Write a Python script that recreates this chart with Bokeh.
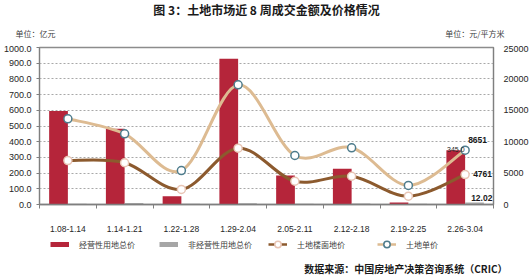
import numpy as np
from bokeh.plotting import figure
from bokeh.layouts import column
from bokeh.models import (Range1d, LinearAxis, FixedTicker, NumeralTickFormatter,
                          Legend, LegendItem)
from bokeh.core.properties import value
from bokeh.embed import file_html
from bokeh.resources import INLINE

# ---------------- data ----------------
weeks = ["1.08-1.14", "1.14-1.21", "1.22-1.28", "1.29-2.04",
         "2.05-2.11", "2.12-2.18", "2.19-2.25", "2.26-3.04"]
commercial_total = [595, 482, 52, 928, 185, 228, 12, 345.0]      # 经营性用地总价 (亿元)
noncommercial_total = [4, 9, 5, 8, 5, 6, 4, 12.02]               # 非经营性用地总价 (亿元)
floor_price = [7000, 6650, 2400, 8970, 3700, 4500, 1330, 4761]    # 土地楼面地价 (元/平方米)
unit_price = [13650, 11250, 5400, 19050, 7800, 9030, 3030, 8651]  # 土地单价 (元/平方米)
left_ticks = list(range(0, 1001, 100))
right_ticks = list(range(0, 25001, 5000))

title_text = "图 3：土地市场近 8 周成交金额及价格情况"
left_unit = "单位：亿元"
right_unit = "单位：元/平方米"
source_text = "数据来源：中国房地产决策咨询系统（CRIC）"
series_names = ["经营性用地总价", "非经营性用地总价", "土地楼面地价", "土地单价"]

# ---------------- styles ----------------
RED = "#B5253A"
GRAY = "#A6A6A6"
TAN = "#DDBB92"
BROWN = "#8C5A2E"
UNIT_EDGE = "#4E7C8C"
FLOOR_EDGE = "#E8C5B5"
CJK = "Noto Sans CJK SC"
NUM = "Liberation Sans"
W = 532
HEAD_H = 45
MAIN_H = 190
FOOT_H = 280 - HEAD_H - MAIN_H


def blank(h, **kw):
    f = figure(width=W, height=h, output_backend="svg", toolbar_location=None,
               x_range=Range1d(0, W), y_range=Range1d(h, 0),
               min_border=0, x_axis_type=None, y_axis_type=None, **kw)
    f.outline_line_color = None
    f.grid.visible = False
    f.frame_align = False
    return f


# ---------------- header (title + units) ----------------
head = blank(HEAD_H)
head.text(x=[W / 2], y=[9], text=[title_text], text_font=value(CJK),
          text_font_style="bold", text_font_size="12px", text_color="#1a1a1a",
          text_align="center", text_baseline="middle")
head.text(x=[15], y=[33], text=[left_unit], text_font=value(CJK),
          text_font_size="8px", text_color="#404040",
          text_align="left", text_baseline="middle")
head.text(x=[504], y=[33], text=[right_unit], text_font=value(CJK),
          text_font_size="8px", text_color="#404040",
          text_align="right", text_baseline="middle")

# ---------------- main chart ----------------
xs = np.arange(len(weeks), dtype=float)

p = figure(width=W, height=MAIN_H, output_backend="svg", toolbar_location=None,
           x_range=Range1d(-0.5, len(weeks) - 0.5), y_range=Range1d(0, 1000),
           min_border_left=37, min_border_right=39, min_border_top=2,
           min_border_bottom=31)
p.frame_align = False
p.extra_y_ranges = {"right": Range1d(0, 25000)}
p.outline_line_color = "#8C8C8C"
p.outline_line_width = 1.5

p.xgrid.visible = False
p.ygrid.ticker = FixedTicker(ticks=left_ticks)
p.ygrid.grid_line_color = "#A8A8A8"
p.ygrid.grid_line_dash = "2 2"
p.ygrid.grid_line_width = 1

ya = p.yaxis[0]
ya.ticker = FixedTicker(ticks=left_ticks)
ya.formatter = NumeralTickFormatter(format="0.0")
ya.major_label_text_font = NUM
ya.major_label_text_font_size = "9px"
ya.major_label_text_color = "#262626"
ya.axis_line_color = "#7F7F7F"
ya.major_tick_line_color = "#7F7F7F"
ya.major_tick_out = 3
ya.major_tick_in = 0
ya.minor_tick_line_color = None
ya.major_label_standoff = 5

ra = LinearAxis(y_range_name="right", ticker=FixedTicker(ticks=right_ticks),
                formatter=NumeralTickFormatter(format="0"))
ra.major_label_text_font = NUM
ra.major_label_text_font_size = "9px"
ra.major_label_text_color = "#262626"
ra.axis_line_color = "#7F7F7F"
ra.major_tick_line_color = None
ra.major_tick_out = 0
ra.major_tick_in = 0
ra.minor_tick_line_color = None
ra.major_label_standoff = 10
p.add_layout(ra, "right")

xa = p.xaxis[0]
xa.ticker = FixedTicker(ticks=list(xs), minor_ticks=list(np.arange(len(weeks) + 1) - 0.5))
xa.major_label_overrides = {int(i): w for i, w in enumerate(weeks)}
xa.major_label_text_font = NUM
xa.major_label_text_font_size = "8.5px"
xa.major_label_text_color = "#262626"
xa.axis_line_color = "#7F7F7F"
xa.axis_line_width = 1.5
xa.major_tick_line_color = None
xa.major_tick_out = 0
xa.minor_tick_line_color = "#7F7F7F"
xa.minor_tick_out = 4
xa.minor_tick_in = 0
xa.major_label_standoff = 17

bar_w = 0.33
p.vbar(x=xs - bar_w / 2, top=commercial_total, width=bar_w,
       fill_color=RED, line_color=None)
p.vbar(x=xs + bar_w / 2, top=noncommercial_total, width=bar_w,
       fill_color=GRAY, line_color=None)


def smooth(ys, color, width):
    """Smoothed line through the data points, drawn as Bezier segments."""
    y = np.asarray(ys, dtype=float)
    x = xs
    n = len(y)
    xp = np.r_[x[0], x, x[-1]]
    yp = np.r_[y[0], y, y[-1]]
    i = np.arange(n - 1)
    cx0 = x[i] + (xp[i + 2] - xp[i]) / 6
    cy0 = y[i] + (yp[i + 2] - yp[i]) / 6
    cx1 = x[i + 1] - (xp[i + 3] - xp[i + 1]) / 6
    cy1 = y[i + 1] - (yp[i + 3] - yp[i + 1]) / 6
    p.bezier(x0=x[i], y0=y[i], x1=x[i + 1], y1=y[i + 1],
             cx0=cx0, cy0=cy0, cx1=cx1, cy1=cy1,
             line_color=color, line_width=width, y_range_name="right")


smooth(unit_price, TAN, 3)
smooth(floor_price, BROWN, 3)

p.scatter(x=xs, y=unit_price, y_range_name="right", size=8,
          fill_color="white", line_color=UNIT_EDGE, line_width=1.5)
p.scatter(x=xs, y=floor_price, y_range_name="right", size=8,
          fill_color="white", line_color=FLOOR_EDGE, line_width=1.5)

last = len(weeks) - 1
p.text(x=[xs[last] - bar_w / 2], y=[commercial_total[last]],
       text=[f"{commercial_total[last]:.1f}"], text_font=value(NUM),
       text_font_size="7px", text_color="#262626", text_align="center",
       text_baseline="bottom", y_offset=2)
p.text(x=[xs[last]], y=[unit_price[last]], y_range_name="right",
       text=[f"{unit_price[last]}"], text_font=value(NUM), text_font_style="bold",
       text_font_size="8.5px", text_color="#1a1a1a", text_align="left",
       text_baseline="middle", x_offset=3, y_offset=-10)
p.text(x=[xs[last]], y=[floor_price[last]], y_range_name="right",
       text=[f"{floor_price[last]}"], text_font=value(NUM), text_font_style="bold",
       text_font_size="8.5px", text_color="#1a1a1a", text_align="left",
       text_baseline="middle", x_offset=8, y_offset=-1)
p.text(x=[xs[last]], y=[noncommercial_total[last]],
       text=[f"{noncommercial_total[last]:.2f}"], text_font=value(NUM),
       text_font_style="bold", text_font_size="8.5px", text_color="#1a1a1a",
       text_align="left", text_baseline="middle", x_offset=6, y_offset=-5)

# ---------------- footer (legend + source) ----------------
foot = blank(FOOT_H)
# legend proxies: the series drawn on ranges that keep them out of view,
# so that only their legend swatches show
foot.extra_x_ranges = {"off": Range1d(1000, 1001)}
foot.extra_y_ranges = {"off_bar": Range1d(0, 1000), "off_line": Range1d(0, 25000)}
OFF = dict(x_range_name="off")
lg_red = foot.line(x=xs, y=commercial_total, y_range_name="off_bar", line_color=RED,
                   line_width=5, line_cap="butt", **OFF)
lg_gray = foot.line(x=xs, y=noncommercial_total, y_range_name="off_bar", line_color=GRAY,
                    line_width=5, line_cap="butt", **OFF)
lg_floor = foot.line(x=xs, y=floor_price, y_range_name="off_line", line_color=BROWN,
                     line_width=2.5, **OFF)
lg_floor_m = foot.scatter(x=xs, y=floor_price, y_range_name="off_line", size=7,
                          fill_color="white", line_color=FLOOR_EDGE, line_width=1.5, **OFF)
lg_unit = foot.line(x=xs, y=unit_price, y_range_name="off_line", line_color=TAN,
                    line_width=2.5, **OFF)
lg_unit_m = foot.scatter(x=xs, y=unit_price, y_range_name="off_line", size=7,
                         fill_color="white", line_color=UNIT_EDGE, line_width=1.5, **OFF)

legend = Legend(items=[LegendItem(label=series_names[0], renderers=[lg_red]),
                       LegendItem(label=series_names[1], renderers=[lg_gray]),
                       LegendItem(label=series_names[2], renderers=[lg_floor, lg_floor_m]),
                       LegendItem(label=series_names[3], renderers=[lg_unit, lg_unit_m])],
                location=(50, FOOT_H - 17), orientation="horizontal",
                glyph_width=19, glyph_height=16, label_standoff=10, label_width=80,
                label_text_font=CJK, label_text_font_size="8px",
                label_text_color="#404040", label_height=10,
                padding=0, margin=0, spacing=0,
                border_line_color=None, background_fill_alpha=0)
foot.add_layout(legend, "center")

foot.text(x=[507], y=[33], text=[source_text], text_font=value(CJK),
          text_font_style="bold", text_font_size="10px", text_color="#1a1a1a",
          text_align="right", text_baseline="middle")

open("out.html", "w").write(file_html(column(head, p, foot, spacing=0), INLINE))
